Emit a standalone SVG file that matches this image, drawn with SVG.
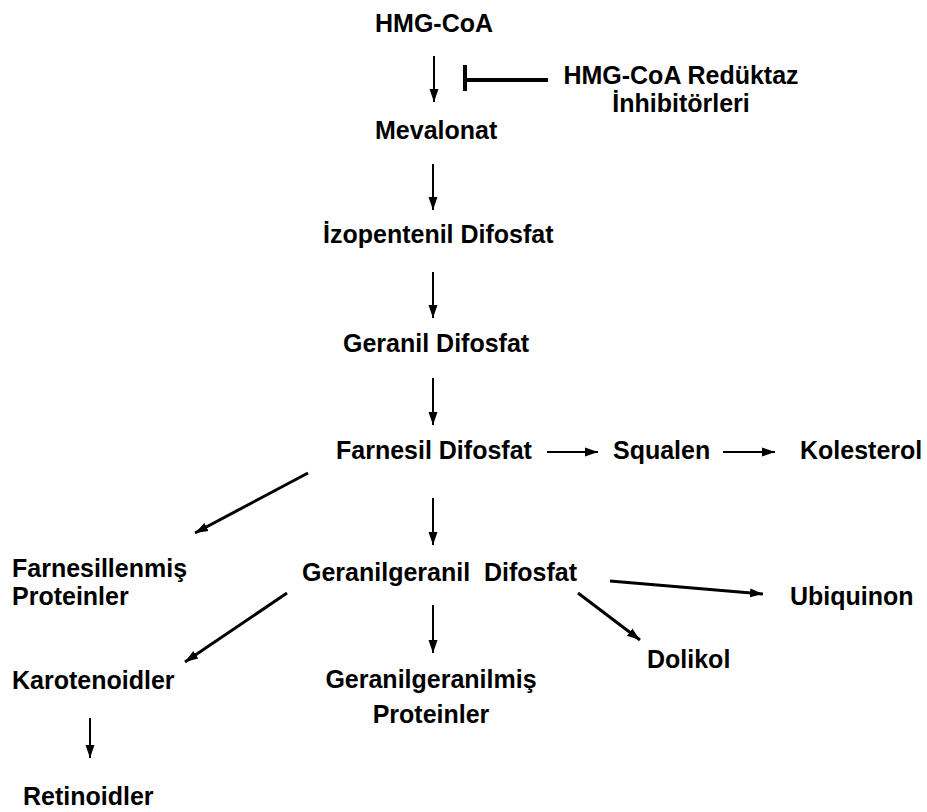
<svg xmlns="http://www.w3.org/2000/svg" width="927" height="812" viewBox="0 0 927 812">
<defs>
<style>
.t{font-family:"Liberation Sans",Arial,sans-serif;font-weight:bold;font-size:25px;fill:#000;white-space:pre}
.m{text-anchor:middle}
.a{stroke:#000;stroke-width:2;fill:none;marker-end:url(#ah)}
.d{stroke:#000;stroke-width:3;fill:none;marker-end:url(#ah)}
</style>
<marker id="ah" markerUnits="userSpaceOnUse" markerWidth="14" markerHeight="12" refX="13" refY="6" orient="auto">
<path d="M0,1.5 L13,6 L0,10.5 Z" fill="#000"/>
</marker>
</defs>
<rect width="927" height="812" fill="#fff"/>
<g id="connectors">
<line class="a" x1="434" y1="56" x2="434" y2="102"/>
<line class="a" x1="433" y1="164" x2="433" y2="210"/>
<line class="a" x1="433" y1="272" x2="433" y2="318"/>
<line class="a" x1="433" y1="378" x2="433" y2="425"/>
<line class="a" x1="433" y1="498" x2="433" y2="545"/>
<line class="a" x1="433" y1="605" x2="433" y2="653"/>
<line class="a" x1="90" y1="718" x2="90" y2="758"/>
<line class="a" x1="547" y1="452" x2="598" y2="452"/>
<line class="a" x1="723" y1="452" x2="775" y2="452"/>
<line class="d" x1="308" y1="473" x2="195" y2="533"/>
<line class="d" x1="287" y1="593" x2="185" y2="662"/>
<line class="d" x1="610" y1="581" x2="763" y2="594"/>
<line class="d" x1="578" y1="593" x2="640" y2="640"/>
<line x1="463" y1="80" x2="548" y2="80" stroke="#000" stroke-width="4"/>
<line x1="465" y1="65" x2="465" y2="91" stroke="#000" stroke-width="4"/>
</g>
<g id="hmgcoa"><text class="t" x="375" y="32">HMG-CoA</text></g>
<g id="inhibitor"><text class="t m" x="681" y="84">HMG-CoA Redüktaz</text><text class="t m" x="681" y="112">İnhibitörleri</text></g>
<g id="mevalonat"><text class="t" x="375" y="139">Mevalonat</text></g>
<g id="izopentenil"><text class="t" x="323" y="243">İzopentenil Difosfat</text></g>
<g id="geranil"><text class="t" x="343" y="352">Geranil Difosfat</text></g>
<g id="farnesil"><text class="t" x="336" y="459">Farnesil Difosfat</text></g>
<g id="squalen"><text class="t" x="613" y="459">Squalen</text></g>
<g id="kolesterol"><text class="t" x="800" y="459">Kolesterol</text></g>
<g id="farnesillenmis"><text class="t" x="12" y="577">Farnesillenmiş</text><text class="t" x="12" y="605">Proteinler</text></g>
<g id="geranilgeranil"><text class="t" x="302" y="581" xml:space="preserve">Geranilgeranil  Difosfat</text></g>
<g id="ubiquinon"><text class="t" x="790" y="605">Ubiquinon</text></g>
<g id="dolikol"><text class="t" x="647" y="668">Dolikol</text></g>
<g id="karotenoidler"><text class="t" x="12" y="689">Karotenoidler</text></g>
<g id="geranilgeranilmis"><text class="t m" x="431" y="688">Geranilgeranilmiş</text><text class="t m" x="431" y="723">Proteinler</text></g>
<g id="retinoidler"><text class="t" x="23" y="805">Retinoidler</text></g>
</svg>
